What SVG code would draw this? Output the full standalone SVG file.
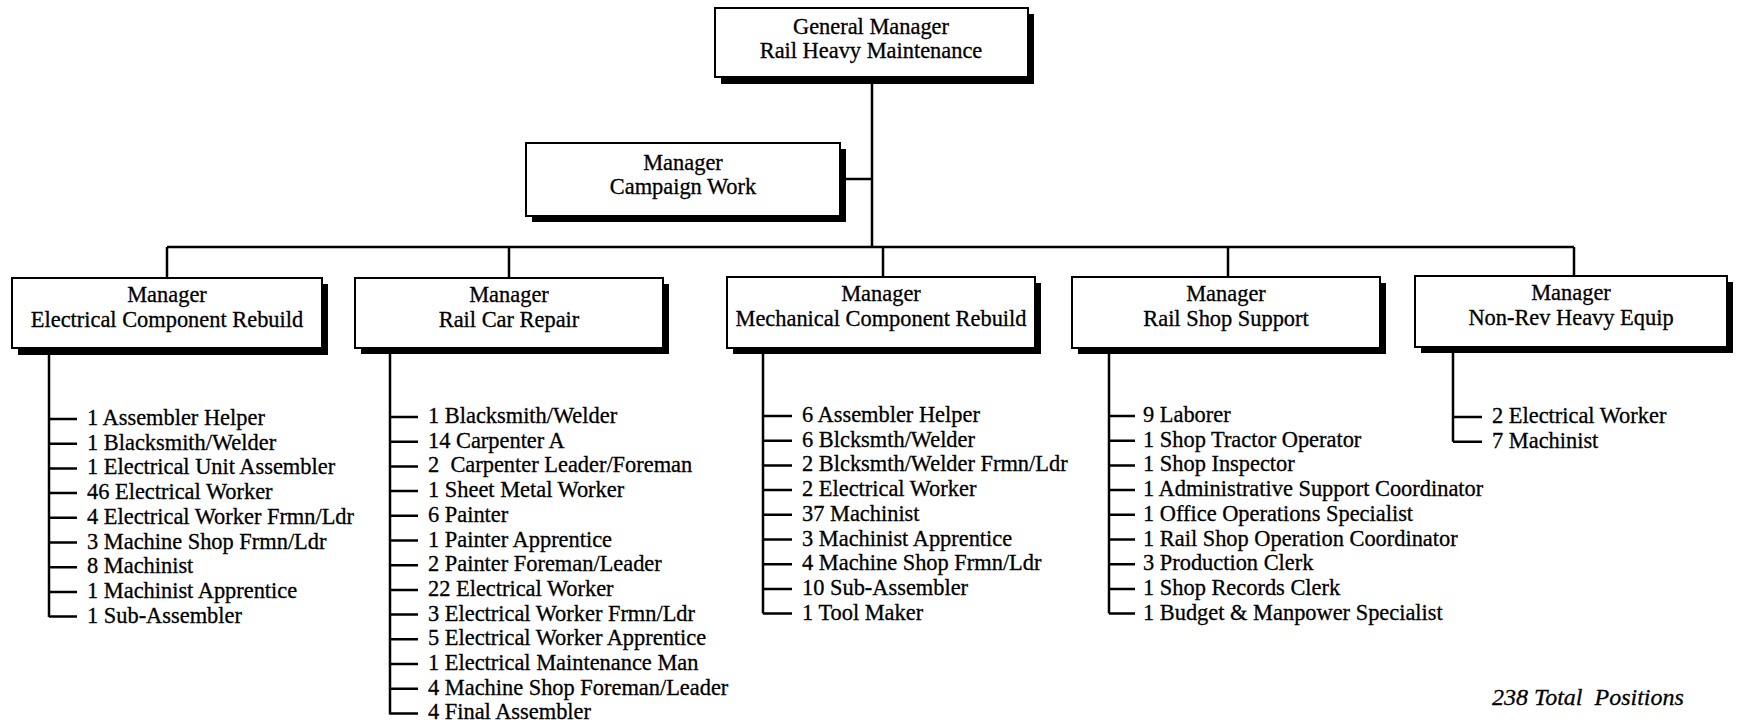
<svg xmlns="http://www.w3.org/2000/svg" width="1737" height="726" viewBox="0 0 1737 726">
<style>
.bx{fill:#fff;stroke:#000;stroke-width:2}
.sh{fill:#000}
.t{font-family:"Liberation Serif","Times New Roman",serif;font-size:22.4px;fill:#000;stroke:#000;stroke-width:0.3}
.c{text-anchor:middle}
.ln{stroke:#000;stroke-width:2.5;fill:none}
.it{font-style:italic;white-space:pre}
.pre{white-space:pre}
</style>
<rect width="1737" height="726" fill="#fff"/>
<g id="connectors">
<path class="ln" d="M872 77V247M840 179H872M167 247H1574M167 247V278M509 247V278M883 247V277M1228 247V277M1574 247V276"/>
<path class="ln" d="M49 348V617M49 419H77M49 443.7H77M49 468.4H77M49 493.1H77M49 517.8H77M49 542.5H77M49 567.2H77M49 591.9H77M49 616.6H77"/>
<path class="ln" d="M390 348V714.5M390 417H418M390 441.7H418M390 466.4H418M390 491.1H418M390 515.8H418M390 540.5H418M390 565.2H418M390 589.9H418M390 614.6H418M390 639.3H418M390 664H418M390 688.7H418M390 713.4H418"/>
<path class="ln" d="M763 348V613.6M763 416H792M763 440.7H792M763 465.4H792M763 490.1H792M763 514.8H792M763 539.5H792M763 564.2H792M763 588.9H792M763 613.6H792"/>
<path class="ln" d="M1109 348V613.6M1109 416H1135M1109 440.7H1135M1109 465.4H1135M1109 490.1H1135M1109 514.8H1135M1109 539.5H1135M1109 564.2H1135M1109 588.9H1135M1109 613.6H1135"/>
<path class="ln" d="M1453 347V441.7M1453 417H1482M1453 441.7H1482"/>
</g>
<g id="gm">
<rect class="sh" x="721" y="14" width="313" height="70"/>
<rect class="bx" x="715" y="8" width="313" height="69"/>
<text class="t c" x="871" y="34">General Manager</text>
<text class="t c" x="871" y="58">Rail Heavy Maintenance</text>
</g>
<g id="campaign">
<rect class="sh" x="532" y="149" width="314" height="73"/>
<rect class="bx" x="526" y="143" width="314" height="73"/>
<text class="t c" x="683" y="170">Manager</text>
<text class="t c" x="683" y="194">Campaign Work</text>
</g>
<g id="ecr">
<rect class="sh" x="18" y="284" width="310" height="71"/>
<rect class="bx" x="12" y="278" width="310" height="70"/>
<text class="t c" x="167" y="302">Manager</text>
<text class="t c" x="167" y="327">Electrical Component Rebuild</text>
</g>
<g id="rcr">
<rect class="sh" x="361" y="284" width="308" height="70"/>
<rect class="bx" x="355" y="278" width="308" height="70"/>
<text class="t c" x="509" y="302">Manager</text>
<text class="t c" x="509" y="327">Rail Car Repair</text>
</g>
<g id="mcr">
<rect class="sh" x="733" y="283" width="308" height="71"/>
<rect class="bx" x="727" y="277" width="308" height="71"/>
<text class="t c" x="881" y="301">Manager</text>
<text class="t c" x="881" y="326">Mechanical Component Rebuild</text>
</g>
<g id="rss">
<rect class="sh" x="1078" y="283" width="308" height="71"/>
<rect class="bx" x="1072" y="277" width="308" height="71"/>
<text class="t c" x="1226" y="301">Manager</text>
<text class="t c" x="1226" y="326">Rail Shop Support</text>
</g>
<g id="nrhe">
<rect class="sh" x="1421" y="282" width="312" height="71"/>
<rect class="bx" x="1415" y="276" width="312" height="71"/>
<text class="t c" x="1571" y="300">Manager</text>
<text class="t c" x="1571" y="325">Non-Rev Heavy Equip</text>
</g>
<g id="list-ecr">
<text class="t" x="87" y="425">1 Assembler Helper</text>
<text class="t" x="87" y="449.7">1 Blacksmith/Welder</text>
<text class="t" x="87" y="474.4">1 Electrical Unit Assembler</text>
<text class="t" x="87" y="499.1">46 Electrical Worker</text>
<text class="t" x="87" y="523.8">4 Electrical Worker Frmn/Ldr</text>
<text class="t" x="87" y="548.5">3 Machine Shop Frmn/Ldr</text>
<text class="t" x="87" y="573.2">8 Machinist</text>
<text class="t" x="87" y="597.9">1 Machinist Apprentice</text>
<text class="t" x="87" y="622.6">1 Sub-Assembler</text>
</g>
<g id="list-rcr">
<text class="t" x="428" y="423">1 Blacksmith/Welder</text>
<text class="t" x="428" y="447.7">14 Carpenter A</text>
<text class="t pre" x="428" y="472.4">2  Carpenter Leader/Foreman</text>
<text class="t" x="428" y="497.1">1 Sheet Metal Worker</text>
<text class="t" x="428" y="521.8">6 Painter</text>
<text class="t" x="428" y="546.5">1 Painter Apprentice</text>
<text class="t" x="428" y="571.2">2 Painter Foreman/Leader</text>
<text class="t" x="428" y="595.9">22 Electrical Worker</text>
<text class="t" x="428" y="620.6">3 Electrical Worker Frmn/Ldr</text>
<text class="t" x="428" y="645.3">5 Electrical Worker Apprentice</text>
<text class="t" x="428" y="670">1 Electrical Maintenance Man</text>
<text class="t" x="428" y="694.7">4 Machine Shop Foreman/Leader</text>
<text class="t" x="428" y="719.4">4 Final Assembler</text>
</g>
<g id="list-mcr">
<text class="t" x="802" y="422">6 Assembler Helper</text>
<text class="t" x="802" y="446.7">6 Blcksmth/Welder</text>
<text class="t" x="802" y="471.4">2 Blcksmth/Welder Frmn/Ldr</text>
<text class="t" x="802" y="496.1">2 Electrical Worker</text>
<text class="t" x="802" y="520.8">37 Machinist</text>
<text class="t" x="802" y="545.5">3 Machinist Apprentice</text>
<text class="t" x="802" y="570.2">4 Machine Shop Frmn/Ldr</text>
<text class="t" x="802" y="594.9">10 Sub-Assembler</text>
<text class="t" x="802" y="619.6">1 Tool Maker</text>
</g>
<g id="list-rss">
<text class="t" x="1143" y="422">9 Laborer</text>
<text class="t" x="1143" y="446.7">1 Shop Tractor Operator</text>
<text class="t" x="1143" y="471.4">1 Shop Inspector</text>
<text class="t" x="1143" y="496.1">1 Administrative Support Coordinator</text>
<text class="t" x="1143" y="520.8">1 Office Operations Specialist</text>
<text class="t" x="1143" y="545.5">1 Rail Shop Operation Coordinator</text>
<text class="t" x="1143" y="570.2">3 Production Clerk</text>
<text class="t" x="1143" y="594.9">1 Shop Records Clerk</text>
<text class="t" x="1143" y="619.6">1 Budget &amp; Manpower Specialist</text>
</g>
<g id="list-nrhe">
<text class="t" x="1492" y="423">2 Electrical Worker</text>
<text class="t" x="1492" y="447.7">7 Machinist</text>
</g>
<g id="total">
<text class="t it" x="1492" y="705" style="font-size:24px">238 Total  Positions</text>
</g>
</svg>
